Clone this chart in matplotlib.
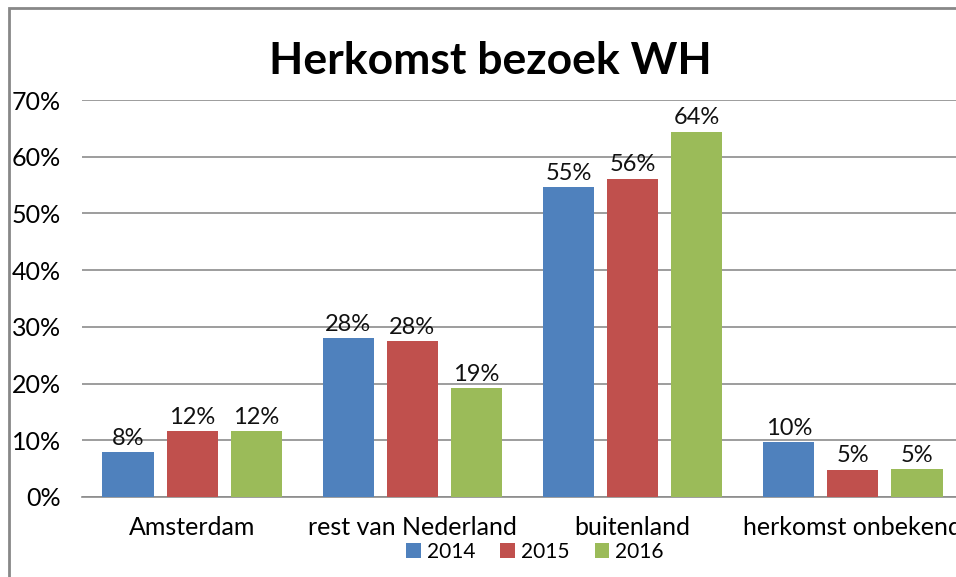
import numpy as np
import matplotlib.pyplot as plt
from matplotlib.patches import Rectangle

# Data (percentages)
categories = ['Amsterdam', 'rest van Nederland', 'buitenland', 'herkomst onbekend']
years = ['2014', '2015', '2016']
v2014 = [7.9, 28.0, 54.6, 9.7]
v2015 = [11.6, 27.5, 56.1, 4.8]
v2016 = [11.6, 19.2, 64.4, 4.9]
colors = ['#4F81BD', '#C0504D', '#9BBB59']

plt.rcParams['font.family'] = ['Lato', 'DejaVu Sans']

fig = plt.figure(figsize=(9.56, 5.77), dpi=100)
W, H = 956, 577

# axes placed in pixel coords, right side runs past the image edge (cropped chart)
left, right, top, bottom = 82, 963, 100, 497
ax = fig.add_axes([left / W, (H - bottom) / H, (right - left) / W, (bottom - top) / H])

x = np.arange(len(categories))
bw = 0.232
off = 0.291
for i, (vals, c) in enumerate(zip([v2014, v2015, v2016], colors)):
    bars = ax.bar(x + (i - 1) * off, vals, bw, color=c, label=years[i], zorder=3)
    for b, v in zip(bars, vals):
        ax.text(b.get_x() + b.get_width() / 2, v + 0.6, '%d%%' % round(v),
                ha='center', va='bottom', fontsize=17, color='#111111')

ax.set_xlim(-0.5, 3.5)
ax.set_ylim(0, 70)
ax.set_yticks(range(0, 71, 10))
ax.set_yticklabels(['%d%%' % t for t in range(0, 71, 10)], fontsize=18)
ax.set_xticks(x)
ax.set_xticklabels(categories, fontsize=18)
ax.tick_params(axis='y', length=0, pad=15)
ax.tick_params(axis='x', length=0, pad=14)
ax.yaxis.grid(True, color='#8c8c8c', linewidth=1.2, zorder=0)
ax.set_axisbelow(True)
for s in ['left', 'right', 'top']:
    ax.spines[s].set_visible(False)
ax.spines['bottom'].set_color('#8c8c8c')
ax.spines['bottom'].set_linewidth(1.2)

fig.text(490 / W, 1 - 61 / H, 'Herkomst bezoek WH', ha='center', va='center',
         fontsize=32, fontweight='bold')

fig.legend(loc='center', bbox_to_anchor=(535 / W, 1 - 552 / H), ncol=3,
           frameon=False, fontsize=15, handlelength=0.7, handleheight=0.7,
           handletextpad=0.3, columnspacing=1.2)

# grey chart border (left and top visible)
fig.patches.append(Rectangle((9 / W, -0.1), 1.2, (H - 8) / H + 0.1,
                             transform=fig.transFigure, fill=False,
                             edgecolor='#888888', linewidth=2))

fig.savefig('out.png', dpi=100)
